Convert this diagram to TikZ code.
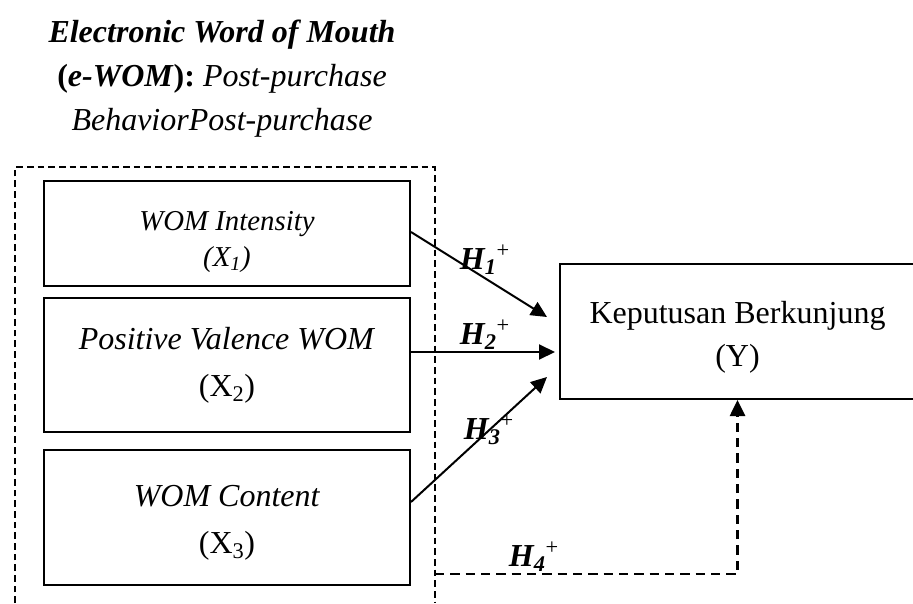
\documentclass[tikz,border=0pt]{standalone}
\usepackage{fontspec}
\setmainfont{Liberation Serif}
\usetikzlibrary{arrows.meta,calc}
\begin{document}
\begin{tikzpicture}[x=0.75pt,y=-0.75pt,
  box/.style={draw,line width=1.5pt,minimum width=274.5pt,align=center,inner sep=0pt},
  groupline/.style={line width=1.4pt,dash pattern=on 5pt off 3pt},
  arr/.style={line width=1.5pt,-{Triangle[length=12pt,width=11.25pt]}},
  dasharr/.style={line width=2pt,dash pattern=on 7pt off 4.5pt,-{Triangle[length=12pt,width=11.25pt]}},
  hlabel/.style={font=\fontsize{24}{28}\selectfont,inner sep=0pt}]
\useasboundingbox (0,0) rectangle (913,603);

% heading
\node[align=center,font=\fontsize{24}{33}\selectfont] (title) at (222,79)
  {\textbf{\textit{Electronic Word of Mouth}}\\
   \textbf{(\textit{e-WOM}):} \textit{Post-purchase}\\
   \textit{BehaviorPost-purchase}};

% dashed e-WOM group
\coordinate (gbl) at (15,603);
\coordinate (gtl) at (15,167);
\coordinate (gtr) at (435,167);
\coordinate (gbr) at (435,603);
\draw[groupline] (gbl) -- (gtl) -- (gtr) -- (gbr);

% independent variables
\node[box,minimum height=78.75pt,font=\fontsize{21.6}{27}\selectfont] (x1) at (227,233.5)
  {\rule{0pt}{27pt}\textit{WOM Intensity}\\\textit{(X\textsubscript{1})}};
\node[box,minimum height=100.5pt,font=\fontsize{24}{35}\selectfont] (x2) at (227,365)
  {\textit{Positive Valence WOM}\\(X\textsubscript{2})};
\node[box,minimum height=101.25pt,font=\fontsize{24}{35}\selectfont] (x3) at (227,517.5)
  {\rule{0pt}{24pt}\textit{WOM Content}\\(X\textsubscript{3})};

% dependent variable
\node[box,minimum width=266.25pt,minimum height=101.25pt,font=\fontsize{24}{32}\selectfont] (y) at (737.5,331.5)
  {\rule{0pt}{25pt}Keputusan Berkunjung\\(Y)};

% hypotheses
\draw[arr] ($(x1.east)+(0,-1.5)$) -- ($(y.west)+(-12,-14.5)$);
\draw[arr] ($(x2.east)+(0,-13)$) -- ($(y.west)+(-4,20.5)$);
\draw[arr] ($(x3.east)+(0,-15.5)$) -- ($(y.west)+(-12,45.5)$);
\coordinate (h4s) at (435,574);
\draw[dasharr] (h4s) -| (y.south);

\node[hlabel] (h1) at (485,260) {\textbf{\textit{H\textsubscript{1}}}\textsuperscript{+}};
\node[hlabel] (h2) at (485,335) {\textbf{\textit{H\textsubscript{2}}}\textsuperscript{+}};
\node[hlabel] (h3) at (489,430) {\textbf{\textit{H\textsubscript{3}}}\textsuperscript{+}};
\node[hlabel] (h4) at (534,557) {\textbf{\textit{H\textsubscript{4}}}\textsuperscript{+}};
\end{tikzpicture}
\end{document}
